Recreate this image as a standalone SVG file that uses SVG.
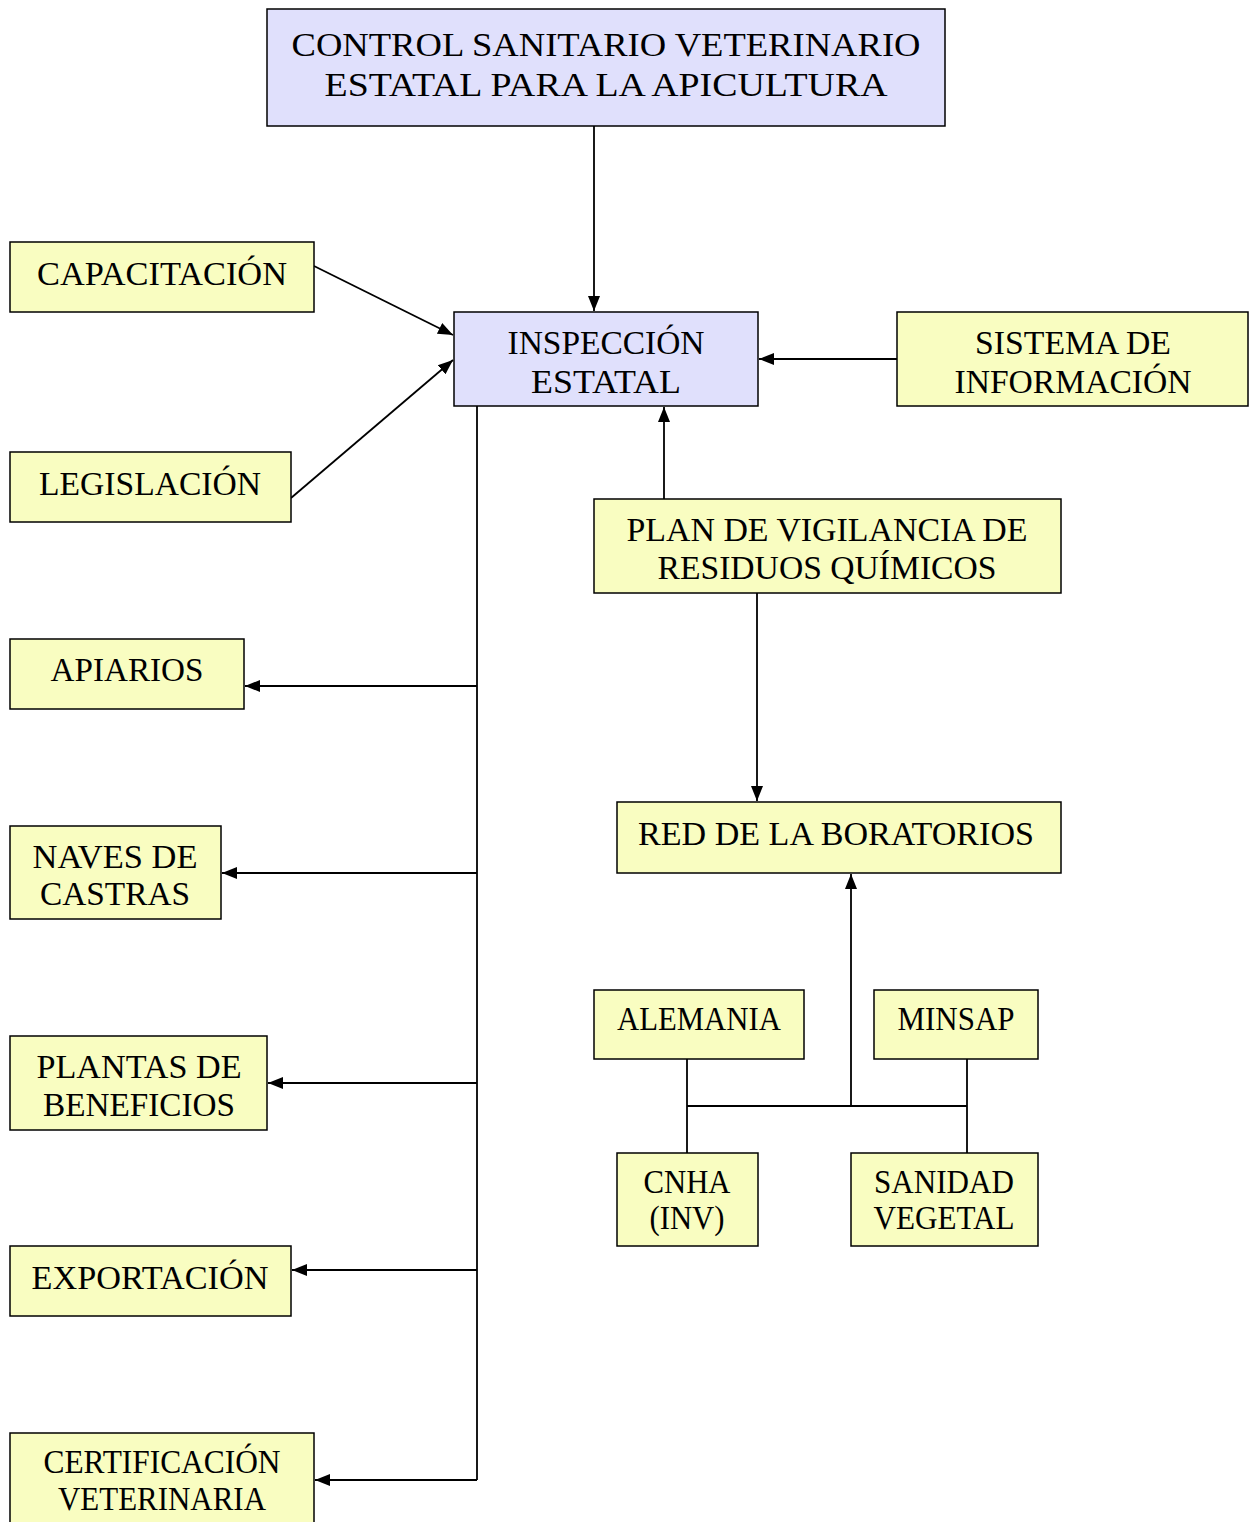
<svg xmlns="http://www.w3.org/2000/svg" width="1253" height="1522" viewBox="0 0 1253 1522">
<style>
.y{fill:#F9FDC1;stroke:#000;stroke-width:1.5}
.b{fill:#E0E0FC;stroke:#000;stroke-width:1.5}
text{font-family:"Liberation Serif","Times New Roman",serif;fill:#000;text-anchor:middle;font-size:33px}
.c{fill:none;stroke:#000;stroke-width:1.8}
</style>
<defs>
<marker id="ah" markerUnits="userSpaceOnUse" markerWidth="16" markerHeight="14" refX="15" refY="7" orient="auto">
<path d="M0,1 L15,7 L0,13 Z" fill="#000"/>
</marker>
</defs>
<rect width="1253" height="1522" fill="#fff"/>
<g id="connectors">
<line class="c" x1="594" y1="126" x2="594" y2="311" marker-end="url(#ah)"/>
<line class="c" x1="314" y1="266" x2="453" y2="335" marker-end="url(#ah)"/>
<line class="c" x1="291" y1="498" x2="453" y2="360" marker-end="url(#ah)"/>
<line class="c" x1="897" y1="359" x2="759" y2="359" marker-end="url(#ah)"/>
<line class="c" x1="664" y1="499" x2="664" y2="407" marker-end="url(#ah)"/>
<line class="c" x1="757" y1="593" x2="757" y2="801" marker-end="url(#ah)"/>
<line class="c" x1="851" y1="1106" x2="851" y2="874" marker-end="url(#ah)"/>
<polyline class="c" points="687,1059 687,1153"/>
<polyline class="c" points="967,1059 967,1153"/>
<polyline class="c" points="687,1106 967,1106"/>
<polyline class="c" points="477,406 477,1480"/>
<line class="c" x1="477" y1="686" x2="245" y2="686" marker-end="url(#ah)"/>
<line class="c" x1="477" y1="873" x2="222" y2="873" marker-end="url(#ah)"/>
<line class="c" x1="477" y1="1083" x2="268" y2="1083" marker-end="url(#ah)"/>
<line class="c" x1="477" y1="1270" x2="292" y2="1270" marker-end="url(#ah)"/>
<line class="c" x1="477" y1="1480" x2="315" y2="1480" marker-end="url(#ah)"/>
</g>
<g id="control">
<rect class="b" x="267" y="9" width="678" height="117"/>
<text x="606" y="56" font-size="42" textLength="629" lengthAdjust="spacingAndGlyphs">CONTROL SANITARIO VETERINARIO</text>
<text x="606" y="96" font-size="42" textLength="563" lengthAdjust="spacingAndGlyphs">ESTATAL PARA LA APICULTURA</text>
</g>
<g id="inspeccion">
<rect class="b" x="454" y="312" width="304" height="94"/>
<text x="606" y="354" textLength="197" lengthAdjust="spacingAndGlyphs">INSPECCIÓN</text>
<text x="606" y="393" textLength="150" lengthAdjust="spacingAndGlyphs">ESTATAL</text>
</g>
<g id="capacitacion">
<rect class="y" x="10" y="242" width="304" height="70"/>
<text x="162" y="285" textLength="250" lengthAdjust="spacingAndGlyphs">CAPACITACIÓN</text>
</g>
<g id="legislacion">
<rect class="y" x="10" y="452" width="281" height="70"/>
<text x="150" y="495" textLength="222" lengthAdjust="spacingAndGlyphs">LEGISLACIÓN</text>
</g>
<g id="sistema">
<rect class="y" x="897" y="312" width="351" height="94"/>
<text x="1073" y="354" textLength="196" lengthAdjust="spacingAndGlyphs">SISTEMA DE</text>
<text x="1073" y="393" textLength="237" lengthAdjust="spacingAndGlyphs">INFORMACIÓN</text>
</g>
<g id="plan">
<rect class="y" x="594" y="499" width="467" height="94"/>
<text x="827" y="541" textLength="401" lengthAdjust="spacingAndGlyphs">PLAN DE VIGILANCIA DE</text>
<text x="827" y="579" textLength="339" lengthAdjust="spacingAndGlyphs">RESIDUOS QUÍMICOS</text>
</g>
<g id="red">
<rect class="y" x="617" y="802" width="444" height="71"/>
<text x="836" y="845" textLength="396" lengthAdjust="spacingAndGlyphs">RED DE LA BORATORIOS</text>
</g>
<g id="alemania">
<rect class="y" x="594" y="990" width="210" height="69"/>
<text x="699" y="1030" font-size="31" textLength="164" lengthAdjust="spacingAndGlyphs">ALEMANIA</text>
</g>
<g id="minsap">
<rect class="y" x="874" y="990" width="164" height="69"/>
<text x="956" y="1030" font-size="31" textLength="117" lengthAdjust="spacingAndGlyphs">MINSAP</text>
</g>
<g id="cnha">
<rect class="y" x="617" y="1153" width="141" height="93"/>
<text x="687" y="1193" font-size="31" textLength="87" lengthAdjust="spacingAndGlyphs">CNHA</text>
<text x="687" y="1229" font-size="31" textLength="75" lengthAdjust="spacingAndGlyphs">(INV)</text>
</g>
<g id="sanidad">
<rect class="y" x="851" y="1153" width="187" height="93"/>
<text x="944" y="1193" font-size="31" textLength="140" lengthAdjust="spacingAndGlyphs">SANIDAD</text>
<text x="944" y="1229" font-size="31" textLength="141" lengthAdjust="spacingAndGlyphs">VEGETAL</text>
</g>
<g id="apiarios">
<rect class="y" x="10" y="639" width="234" height="70"/>
<text x="127" y="681" textLength="153" lengthAdjust="spacingAndGlyphs">APIARIOS</text>
</g>
<g id="naves">
<rect class="y" x="10" y="826" width="211" height="93"/>
<text x="115" y="868" textLength="165" lengthAdjust="spacingAndGlyphs">NAVES DE</text>
<text x="115" y="905" textLength="150" lengthAdjust="spacingAndGlyphs">CASTRAS</text>
</g>
<g id="plantas">
<rect class="y" x="10" y="1036" width="257" height="94"/>
<text x="139" y="1078" textLength="205" lengthAdjust="spacingAndGlyphs">PLANTAS DE</text>
<text x="139" y="1116" textLength="192" lengthAdjust="spacingAndGlyphs">BENEFICIOS</text>
</g>
<g id="exportacion">
<rect class="y" x="10" y="1246" width="281" height="70"/>
<text x="150" y="1289" textLength="237" lengthAdjust="spacingAndGlyphs">EXPORTACIÓN</text>
</g>
<g id="certificacion">
<rect class="y" x="10" y="1433" width="304" height="100"/>
<text x="162" y="1473" textLength="237" lengthAdjust="spacingAndGlyphs">CERTIFICACIÓN</text>
<text x="162" y="1510" textLength="208" lengthAdjust="spacingAndGlyphs">VETERINARIA</text>
</g>
</svg>
